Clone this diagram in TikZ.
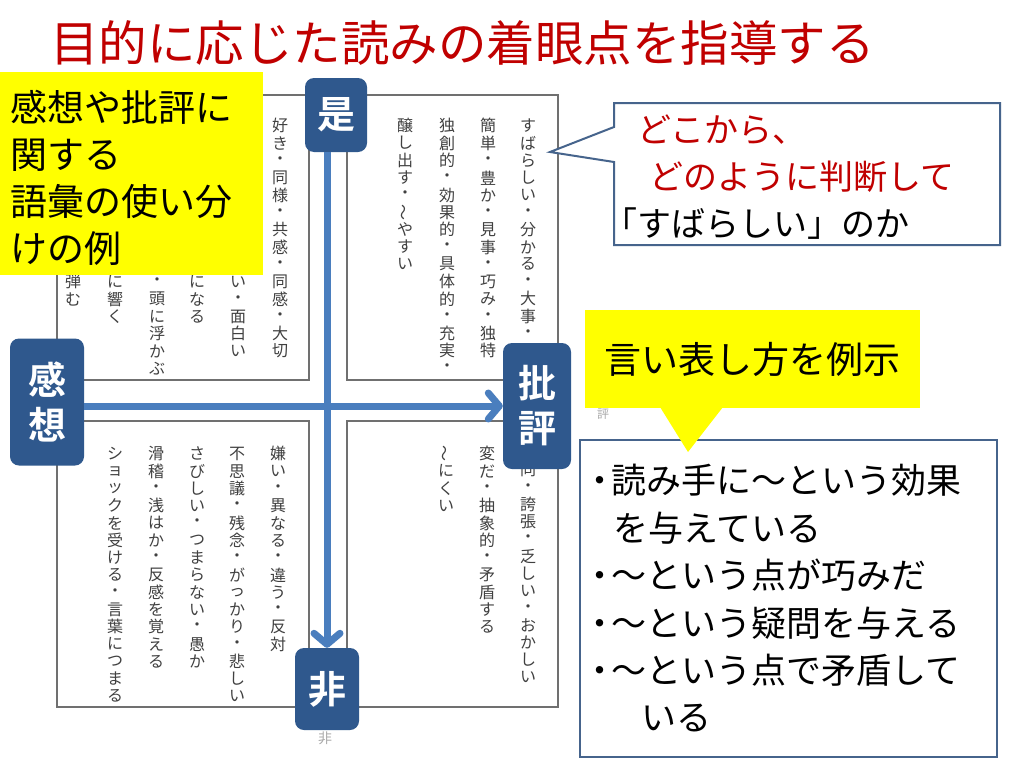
\documentclass[tikz,border=0pt]{standalone}
\usepackage{fontspec}
\setmainfont{Noto Sans CJK JP}[BoldFont={Noto Sans CJK JP Bold}]
\usepackage{graphicx}
\usetikzlibrary{arrows.meta,positioning}

\definecolor{titlered}{RGB}{192,0,0}
\definecolor{axisfill}{RGB}{47,88,141}
\definecolor{axisline}{RGB}{74,126,190}
\definecolor{framegray}{RGB}{112,112,112}
\definecolor{tategray}{RGB}{64,64,64}
\definecolor{boxblue}{RGB}{70,100,140}
\definecolor{marker}{RGB}{255,255,0}

\newcommand\vtilde{\rotatebox{90}{〜}}
\newcommand\tatecol[1]{\vbox{\offinterlineskip\tateloop#1\relax}}
\def\tateloop#1{\ifx#1\relax\else\hbox to 17pt{\hss\vbox to 17.3pt{\vss\hbox{#1}\vss}\hss}\expandafter\tateloop\fi}

\begin{document}
\begin{tikzpicture}[x=1pt,y=-1pt,
  axis/.style = {fill=axisfill, rounded corners=9pt, text=white, font=\fontsize{38}{45}\selectfont\bfseries, align=center, inner sep=0},
  arrowline/.style = {draw=axisline, line width=7pt, -{Straight Barb[length=11pt,width=26pt,round]}},
  gridbox/.style = {draw=framegray, line width=1.8pt},
  tate/.style = {inner sep=0, anchor=north, text=tategray, font=\fontsize{16}{16}\selectfont},
  faint/.style = {inner sep=0, text=framegray!60, font=\fontsize{12}{12}\selectfont},
  marker/.style = {fill=marker, inner sep=0}]
\fill[white] (0,0) rectangle (1024,768);
\useasboundingbox (0,0) rectangle (1024,768);

\node[anchor=west, text=titlered, font=\fontsize{48.5}{48.5}\selectfont, inner sep=0] (title) at (50,43) {目的に応じた読みの着眼点を指導する};

\draw[gridbox] (57,95) rectangle (309,380);
\draw[gridbox] (347,95) rectangle (558,380);
\draw[gridbox] (57,421) rectangle (309,707);
\draw[gridbox] (347,421) rectangle (558,707);

\node[tate] (tl1) at (280,117) {\tatecol{好き・同様・共感・同感・大切}};
\node[tate] (tl2) at (238,273) {\tatecol{い・面白い}};
\node[tate] (tl3) at (197,273) {\tatecol{になる}};
\node[tate] (tl4) at (157,273) {\tatecol{・頭に浮かぶ}};
\node[tate] (tl5) at (115,273) {\tatecol{に響く}};
\node[tate] (tl6) at (73,273) {\tatecol{弾む}};
\node[tate] (tr1) at (528,117) {\tatecol{すばらしい・分かる・大事・}};
\node[tate] (tr2) at (488,117) {\tatecol{簡単・豊か・見事・巧み・独特}};
\node[tate] (tr3) at (447,117) {\tatecol{独創的・効果的・具体的・充実・}};
\node[tate] (tr4) at (405,117) {\tatecol{醸し出す・\vtilde やすい}};
\node[tate] (bl1) at (278,445) {\tatecol{嫌い・異なる・違う・反対}};
\node[tate] (bl2) at (237,445) {\tatecol{不思議・残念・がっかり・悲しい}};
\node[tate] (bl3) at (197,445) {\tatecol{さびしい・つまらない・愚か}};
\node[tate] (bl4) at (156,445) {\tatecol{滑稽・浅はか・反感を覚える}};
\node[tate] (bl5) at (115,445) {\tatecol{ショックを受ける・言葉につまる}};
\node[tate] (br1) at (528,461) {\tatecol{同・誇張・乏しい・おかしい}};
\node[tate] (br2) at (487,445) {\tatecol{変だ・抽象的・矛盾する}};
\node[tate] (br3) at (446,445) {\tatecol{\vtilde にくい}};

\node[faint] (hyo) at (603,414) {評};
\node[faint, font=\fontsize{14}{14}\selectfont] (hilabel) at (325,738) {非};

\node[axis, minimum width=62pt, minimum height=74pt] (ze) at (336,115) {是};
\node[axis, minimum width=64pt, minimum height=82pt] (hi) at (327,689) {非};
\node[axis, minimum width=74pt, minimum height=127pt] (kan) at (47,402) {感\\想};
\node[axis, minimum width=68pt, minimum height=126pt] (hih) at (537,406) {批\\評};
\draw[arrowline] (ze.south -| hi.north) -- (hi.north);
\draw[arrowline] (kan.east |- hih.west) -- (hih.west);

\node[marker, minimum width=263pt, minimum height=203pt] (note) at (131.5,173.5) {};
\node[anchor=west, align=left, font=\fontsize{37}{47}\selectfont, inner sep=0] (notetext) at (10,177.5) {感想や批評に\\関する\\語彙の使い分\\けの例};

\coordinate (asktip) at (550,152);
\draw[draw=boxblue, line width=2pt, fill=white] (614,103) -- (1000,103) -- (1000,245) -- (614,245) -- (614,162) -- (asktip) -- (614,127) -- cycle;
\node[anchor=west, align=left, font=\fontsize{34}{47}\selectfont, inner sep=0] (ask) at (603,177) {\hspace*{34pt}\textcolor{titlered}{どこから、}\\\hspace*{46pt}\textcolor{titlered}{どのように判断して}\\「すばらしい」のか};

\node[draw=boxblue, line width=2.5pt, fill=white, minimum width=417pt, minimum height=317pt, inner sep=0] (ex) at (788.5,598.5) {};
\node[anchor=west, align=left, font=\fontsize{35}{47.4}\selectfont, inner sep=0] (extext) at (589,598.5) {\makebox[22pt]{・}読み手に〜という効果\\\hspace*{24pt}を与えている\\\makebox[22pt]{・}〜という点が巧みだ\\\makebox[22pt]{・}〜という疑問を与える\\\makebox[22pt]{・}〜という点で矛盾して\\\hspace*{52pt}いる};

\node[marker, minimum width=335pt, minimum height=98pt, font=\fontsize{37}{37}\selectfont] (show) at (752.5,359) {言い表し方を例示};
\coordinate (showtip) at (688,452);
\fill[marker] (660,407) -- (showtip) -- (723,407) -- cycle;
\end{tikzpicture}
\end{document}
